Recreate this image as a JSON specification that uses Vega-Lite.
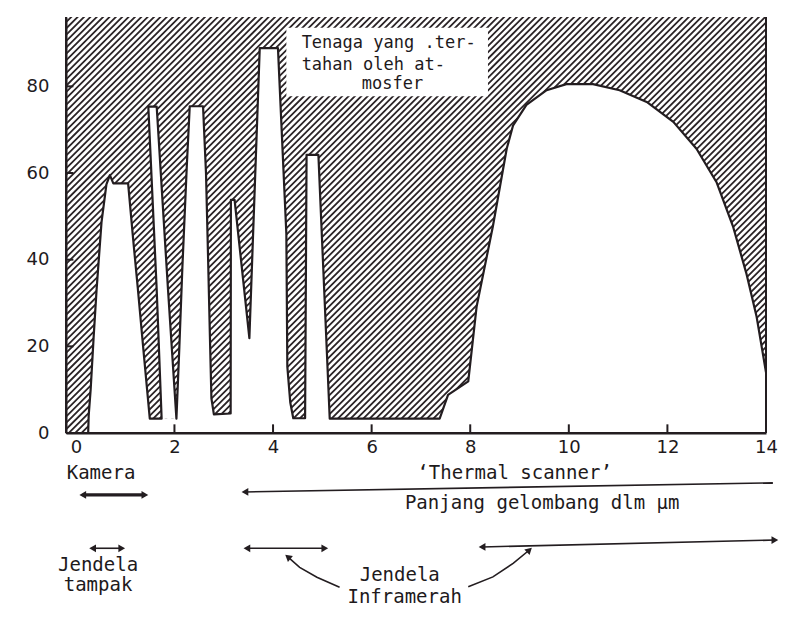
{
  "$schema": "https://vega.github.io/schema/vega-lite/v6.json",
  "width": 700,
  "height": 416,
  "autosize": {"type": "none"},
  "padding": {"left": 66, "top": 17, "right": 25, "bottom": 189},
  "background": "#ffffff",
  "config": {
    "view": {"stroke": null},
    "axis": {
      "labelFont": "DejaVu Sans", "labelFontSize": 18, "labelColor": "#1e1a1c",
      "domainColor": "#1e1a1c", "domainWidth": 2, "ticks": false,
      "grid": false, "zindex": 1, "labelOverlap": false
    },
    "axisX": {"tickCount": 7, "labelPadding": 5, "labelFlush": false},
    "axisY": {"tickCount": 5, "labelPadding": 17}
  },
  "datasets": {
    "curve": [
      {"i": 1, "part": "A", "x": 0.25, "y": 0},
      {"i": 2, "part": "A", "x": 0.26, "y": 4},
      {"i": 3, "part": "A", "x": 0.30, "y": 10},
      {"i": 4, "part": "A", "x": 0.36, "y": 22},
      {"i": 5, "part": "A", "x": 0.42, "y": 33},
      {"i": 6, "part": "A", "x": 0.52, "y": 48.6},
      {"i": 7, "part": "A", "x": 0.62, "y": 57.4},
      {"i": 8, "part": "A", "x": 0.69, "y": 59.5},
      {"i": 9, "part": "A", "x": 0.76, "y": 57.6},
      {"i": 10, "part": "A", "x": 1.06, "y": 57.6},
      {"i": 11, "part": "A", "x": 1.16, "y": 45},
      {"i": 12, "part": "A", "x": 1.26, "y": 33},
      {"i": 13, "part": "A", "x": 1.38, "y": 18},
      {"i": 14, "part": "A", "x": 1.50, "y": 3.3},
      {"i": 15, "part": "A", "x": 1.74, "y": 3.3},
      {"i": 16, "part": "S", "x": 1.64, "y": 33},
      {"i": 17, "part": "S", "x": 1.47, "y": 75.3},
      {"i": 18, "part": "S", "x": 1.64, "y": 75.3},
      {"i": 19, "part": "S", "x": 1.87, "y": 33},
      {"i": 20, "part": "B", "x": 2.04, "y": 3.3},
      {"i": 21, "part": "B", "x": 2.10, "y": 20},
      {"i": 22, "part": "B", "x": 2.16, "y": 38},
      {"i": 23, "part": "B", "x": 2.25, "y": 61.5},
      {"i": 24, "part": "B", "x": 2.31, "y": 75.4},
      {"i": 25, "part": "B", "x": 2.58, "y": 75.4},
      {"i": 26, "part": "B", "x": 2.64, "y": 60},
      {"i": 27, "part": "B", "x": 2.68, "y": 41.5},
      {"i": 28, "part": "B", "x": 2.72, "y": 22},
      {"i": 29, "part": "B", "x": 2.75, "y": 8},
      {"i": 30, "part": "B", "x": 2.80, "y": 4.3},
      {"i": 31, "part": "B", "x": 3.14, "y": 4.5},
      {"i": 32, "part": "B", "x": 3.145, "y": 53.8},
      {"i": 33, "part": "B", "x": 3.22, "y": 53.8},
      {"i": 34, "part": "B", "x": 3.52, "y": 21.9},
      {"i": 35, "part": "B", "x": 3.73, "y": 88.8},
      {"i": 36, "part": "B", "x": 4.10, "y": 88.8},
      {"i": 37, "part": "B", "x": 4.27, "y": 46},
      {"i": 38, "part": "B", "x": 4.29, "y": 15.3},
      {"i": 39, "part": "B", "x": 4.35, "y": 7},
      {"i": 40, "part": "B", "x": 4.41, "y": 3.4},
      {"i": 41, "part": "B", "x": 4.65, "y": 3.4},
      {"i": 42, "part": "B", "x": 4.68, "y": 64.2},
      {"i": 43, "part": "B", "x": 4.92, "y": 64.2},
      {"i": 44, "part": "B", "x": 5.15, "y": 3.3},
      {"i": 45, "part": "B", "x": 7.38, "y": 3.3},
      {"i": 46, "part": "B", "x": 7.55, "y": 8.8},
      {"i": 47, "part": "B", "x": 7.96, "y": 11.9},
      {"i": 48, "part": "B", "x": 8.13, "y": 29.2},
      {"i": 49, "part": "B", "x": 8.46, "y": 47.7},
      {"i": 50, "part": "B", "x": 8.74, "y": 65.6},
      {"i": 51, "part": "B", "x": 8.87, "y": 71},
      {"i": 52, "part": "B", "x": 9.14, "y": 75.7},
      {"i": 53, "part": "B", "x": 9.55, "y": 79.1},
      {"i": 54, "part": "B", "x": 9.95, "y": 80.5},
      {"i": 55, "part": "B", "x": 10.49, "y": 80.5},
      {"i": 56, "part": "B", "x": 11.03, "y": 79.1},
      {"i": 57, "part": "B", "x": 11.58, "y": 76.4},
      {"i": 58, "part": "B", "x": 12.12, "y": 71.8},
      {"i": 59, "part": "B", "x": 12.59, "y": 65.6},
      {"i": 60, "part": "B", "x": 13.0, "y": 57.8},
      {"i": 61, "part": "B", "x": 13.33, "y": 47.7},
      {"i": 62, "part": "B", "x": 13.6, "y": 36.9},
      {"i": 63, "part": "B", "x": 13.81, "y": 26.8},
      {"i": 64, "part": "B", "x": 14.0, "y": 14}
    ],
    "spike": [
      {"y": 3.3, "xl": 1.74, "xr": 2.04},
      {"y": 33, "xl": 1.64, "xr": 1.87},
      {"y": 75.3, "xl": 1.47, "xr": 1.64}
    ],
    "boxText": [
      {"t": "Tenaga yang .ter-", "x": 4.58, "y": 90},
      {"t": "tahan oleh at-", "x": 4.58, "y": 85},
      {"t": "mosfer", "x": 5.80, "y": 80.6}
    ],
    "xticks": [{"v": 2}, {"v": 4}, {"v": 6}, {"v": 8}, {"v": 10}, {"v": 12}],
    "yticks": [{"v": 20}, {"v": 40}, {"v": 60}, {"v": 80}],
    "arrows": [
      {"a": "kamera", "i": 1, "x": 0.14, "y": -14.3},
      {"a": "kamera", "i": 2, "x": 1.40, "y": -14.3},
      {"a": "thermal", "i": 1, "x": 3.43, "y": -13.6},
      {"a": "thermal", "i": 2, "x": 14.14, "y": -11.5},
      {"a": "tampak", "i": 1, "x": 0.34, "y": -26.6},
      {"a": "tampak", "i": 2, "x": 0.93, "y": -26.6},
      {"a": "ir1", "i": 1, "x": 3.47, "y": -26.6},
      {"a": "ir1", "i": 2, "x": 5.05, "y": -26.6},
      {"a": "ir2", "i": 1, "x": 8.24, "y": -26.3},
      {"a": "ir2", "i": 2, "x": 14.18, "y": -24.7},
      {"a": "c1", "i": 1, "x": 5.35, "y": -35.6},
      {"a": "c1", "i": 2, "x": 4.89, "y": -33.3},
      {"a": "c1", "i": 3, "x": 4.54, "y": -31.0},
      {"a": "c1", "i": 4, "x": 4.30, "y": -28.6},
      {"a": "c2", "i": 1, "x": 7.96, "y": -35.5},
      {"a": "c2", "i": 2, "x": 8.46, "y": -33.2},
      {"a": "c2", "i": 3, "x": 8.87, "y": -30.1},
      {"a": "c2", "i": 4, "x": 9.2, "y": -27.0}
    ],
    "heads": [
      {"a": "kamera", "end": "L", "x": 0.14, "y": -14.3},
      {"a": "kamera", "end": "R", "x": 1.40, "y": -14.3},
      {"a": "thermal", "end": "L", "x": 3.43, "y": -13.6},
      {"a": "tampak", "end": "L", "x": 0.34, "y": -26.6},
      {"a": "tampak", "end": "R", "x": 0.93, "y": -26.6},
      {"a": "ir1", "end": "L", "x": 3.47, "y": -26.6},
      {"a": "ir1", "end": "R", "x": 5.05, "y": -26.6},
      {"a": "ir2", "end": "L", "x": 8.24, "y": -26.3},
      {"a": "ir2", "end": "R", "x": 14.18, "y": -24.7},
      {"a": "c1", "end": "C", "x": 4.30, "y": -28.6},
      {"a": "c2", "end": "C", "x": 9.2, "y": -27.0}
    ],
    "notes": [
      {"t": "Kamera", "x": 0.51, "y": -9.2},
      {"t": "‘Thermal scanner’", "x": 8.9, "y": -9.2},
      {"t": "Panjang gelombang dlm µm", "x": 9.46, "y": -16.2},
      {"t": "Jendela", "x": 0.45, "y": -30.5},
      {"t": "tampak", "x": 0.45, "y": -35.1},
      {"t": "Jendela", "x": 6.57, "y": -32.8},
      {"t": "Inframerah", "x": 6.67, "y": -37.9}
    ]
  },
  "layer": [
    {
      "data": {"values": [{}]},
      "mark": {"type": "rule", "clip": true, "strokeWidth": 1200, "strokeDash": [1.8, 2.7], "color": "#2b2427", "opacity": 1},
      "encoding": {
        "x": {"datum": -1.62, "type": "quantitative", "title": null, "scale": {"domain": [-0.2, 14], "nice": false, "zero": false}},
        "y": {"datum": 145, "type": "quantitative", "title": null, "scale": {"domain": [0, 96], "nice": false, "zero": false}},
        "x2": {"datum": 15.42},
        "y2": {"datum": -49}
      }
    },
    {
      "data": {"values": [{}]},
      "mark": {"type": "rect", "color": "#ffffff", "opacity": 1},
      "encoding": {
        "x": {"datum": 0.25, "type": "quantitative", "title": null, "scale": {"domain": [-0.2, 14], "nice": false, "zero": false}},
        "x2": {"datum": 14},
        "y": {"datum": 0, "type": "quantitative", "title": null, "scale": {"domain": [0, 96], "nice": false, "zero": false}},
        "y2": {"datum": 3.3}
      }
    },
    {
      "data": {"name": "curve"},
      "transform": [{"filter": "datum.part != 'S'"}],
      "mark": {"type": "area", "color": "#ffffff", "orient": "vertical", "opacity": 1},
      "encoding": {
        "x": {"field": "x", "type": "quantitative", "title": null, "scale": {"domain": [-0.2, 14], "nice": false, "zero": false}},
        "y": {"field": "y", "type": "quantitative", "title": null, "scale": {"domain": [0, 96], "nice": false, "zero": false}},
        "y2": {"datum": 0},
        "detail": {"field": "part"}
      }
    },
    {
      "data": {"name": "spike"},
      "mark": {"type": "area", "color": "#ffffff", "orient": "horizontal", "opacity": 1},
      "encoding": {
        "y": {"field": "y", "type": "quantitative", "title": null, "scale": {"domain": [0, 96], "nice": false, "zero": false}},
        "x": {"field": "xl", "type": "quantitative", "title": null, "scale": {"domain": [-0.2, 14], "nice": false, "zero": false}},
        "x2": {"field": "xr"}
      }
    },
    {
      "data": {"values": [{}]},
      "mark": {"type": "rect", "color": "#ffffff", "opacity": 1},
      "encoding": {
        "x": {"datum": 4.27, "type": "quantitative", "title": null, "scale": {"domain": [-0.2, 14], "nice": false, "zero": false}},
        "x2": {"datum": 8.36},
        "y": {"datum": 77.7, "type": "quantitative", "title": null, "scale": {"domain": [0, 96], "nice": false, "zero": false}},
        "y2": {"datum": 93.5}
      }
    },
    {
      "data": {"name": "curve"},
      "mark": {"type": "line", "color": "#231d20", "strokeWidth": 2.2, "strokeJoin": "round"},
      "encoding": {
        "x": {"field": "x", "type": "quantitative", "title": null, "scale": {"domain": [-0.2, 14], "nice": false, "zero": false}},
        "y": {"field": "y", "type": "quantitative", "title": null, "scale": {"domain": [0, 96], "nice": false, "zero": false}},
        "order": {"field": "i"}
      }
    },
    {
      "data": {"values": [{}]},
      "mark": {"type": "rule", "color": "#231d20", "strokeWidth": 2},
      "encoding": {
        "x": {"datum": 14, "type": "quantitative", "title": null, "scale": {"domain": [-0.2, 14], "nice": false, "zero": false}},
        "y": {"datum": 0, "type": "quantitative", "title": null, "scale": {"domain": [0, 96], "nice": false, "zero": false}},
        "y2": {"datum": 96}
      }
    },
    {
      "data": {"values": [{}]},
      "mark": {"type": "rule", "color": "#231d20", "strokeWidth": 2},
      "encoding": {
        "x": {"datum": -0.2, "type": "quantitative", "title": null, "scale": {"domain": [-0.2, 14], "nice": false, "zero": false}},
        "y": {"datum": 0, "type": "quantitative", "title": null, "scale": {"domain": [0, 96], "nice": false, "zero": false}},
        "y2": {"datum": 96}
      }
    },
    {
      "data": {"values": [{}]},
      "mark": {"type": "rule", "color": "#231d20", "strokeWidth": 2},
      "encoding": {
        "x": {"datum": -0.2, "type": "quantitative", "title": null, "scale": {"domain": [-0.2, 14], "nice": false, "zero": false}},
        "x2": {"datum": 14},
        "y": {"datum": 0, "type": "quantitative", "title": null, "scale": {"domain": [0, 96], "nice": false, "zero": false}}
      }
    },
    {
      "data": {"name": "xticks"},
      "mark": {"type": "rule", "color": "#231d20", "strokeWidth": 2},
      "encoding": {
        "x": {"field": "v", "type": "quantitative", "title": null, "scale": {"domain": [-0.2, 14], "nice": false, "zero": false}},
        "y": {"datum": 0, "type": "quantitative", "title": null, "scale": {"domain": [0, 96], "nice": false, "zero": false}},
        "y2": {"datum": 2}
      }
    },
    {
      "data": {"name": "yticks"},
      "mark": {"type": "rule", "color": "#231d20", "strokeWidth": 2},
      "encoding": {
        "y": {"field": "v", "type": "quantitative", "title": null, "scale": {"domain": [0, 96], "nice": false, "zero": false}},
        "x": {"datum": -0.2, "type": "quantitative", "title": null, "scale": {"domain": [-0.2, 14], "nice": false, "zero": false}},
        "x2": {"datum": -0.05}
      }
    },
    {
      "data": {"name": "boxText"},
      "mark": {"type": "text", "align": "left", "baseline": "middle", "font": "DejaVu Sans Mono", "fontSize": 17, "color": "#1e1a1c"},
      "encoding": {
        "x": {"field": "x", "type": "quantitative", "title": null, "scale": {"domain": [-0.2, 14], "nice": false, "zero": false}},
        "y": {"field": "y", "type": "quantitative", "title": null, "scale": {"domain": [0, 96], "nice": false, "zero": false}},
        "text": {"field": "t"}
      }
    },
    {
      "data": {"name": "arrows"},
      "transform": [{"filter": "datum.a != 'kamera'"}],
      "mark": {"type": "line", "color": "#231d20", "strokeWidth": 1.6},
      "encoding": {
        "x": {"field": "x", "type": "quantitative", "title": null, "scale": {"domain": [-0.2, 14], "nice": false, "zero": false}},
        "y": {"field": "y", "type": "quantitative", "title": null, "scale": {"domain": [0, 96], "nice": false, "zero": false}},
        "detail": {"field": "a"},
        "order": {"field": "i"}
      }
    },
    {
      "data": {"name": "arrows"},
      "transform": [{"filter": "datum.a == 'kamera'"}],
      "mark": {"type": "line", "color": "#231d20", "strokeWidth": 3.2},
      "encoding": {
        "x": {"field": "x", "type": "quantitative", "title": null, "scale": {"domain": [-0.2, 14], "nice": false, "zero": false}},
        "y": {"field": "y", "type": "quantitative", "title": null, "scale": {"domain": [0, 96], "nice": false, "zero": false}},
        "order": {"field": "i"}
      }
    },
    {
      "data": {"name": "heads"},
      "transform": [{"filter": "datum.end == 'L'"}],
      "mark": {"type": "point", "shape": "triangle-left", "filled": true, "size": 60, "color": "#231d20", "opacity": 1},
      "encoding": {
        "x": {"field": "x", "type": "quantitative", "title": null, "scale": {"domain": [-0.2, 14], "nice": false, "zero": false}},
        "y": {"field": "y", "type": "quantitative", "title": null, "scale": {"domain": [0, 96], "nice": false, "zero": false}}
      }
    },
    {
      "data": {"name": "heads"},
      "transform": [{"filter": "datum.end == 'R'"}],
      "mark": {"type": "point", "shape": "triangle-right", "filled": true, "size": 60, "color": "#231d20", "opacity": 1},
      "encoding": {
        "x": {"field": "x", "type": "quantitative", "title": null, "scale": {"domain": [-0.2, 14], "nice": false, "zero": false}},
        "y": {"field": "y", "type": "quantitative", "title": null, "scale": {"domain": [0, 96], "nice": false, "zero": false}}
      }
    },
    {
      "data": {"name": "heads"},
      "transform": [{"filter": "datum.a == 'c1'"}],
      "mark": {"type": "point", "shape": "triangle-up", "angle": 310, "filled": true, "size": 60, "color": "#231d20", "opacity": 1},
      "encoding": {
        "x": {"field": "x", "type": "quantitative", "title": null, "scale": {"domain": [-0.2, 14], "nice": false, "zero": false}},
        "y": {"field": "y", "type": "quantitative", "title": null, "scale": {"domain": [0, 96], "nice": false, "zero": false}}
      }
    },
    {
      "data": {"name": "heads"},
      "transform": [{"filter": "datum.a == 'c2'"}],
      "mark": {"type": "point", "shape": "triangle-up", "angle": 47, "filled": true, "size": 60, "color": "#231d20", "opacity": 1},
      "encoding": {
        "x": {"field": "x", "type": "quantitative", "title": null, "scale": {"domain": [-0.2, 14], "nice": false, "zero": false}},
        "y": {"field": "y", "type": "quantitative", "title": null, "scale": {"domain": [0, 96], "nice": false, "zero": false}}
      }
    },
    {
      "data": {"name": "notes"},
      "mark": {"type": "text", "align": "center", "baseline": "middle", "font": "DejaVu Sans Mono", "fontSize": 19, "color": "#1e1a1c"},
      "encoding": {
        "x": {"field": "x", "type": "quantitative", "title": null, "scale": {"domain": [-0.2, 14], "nice": false, "zero": false}},
        "y": {"field": "y", "type": "quantitative", "title": null, "scale": {"domain": [0, 96], "nice": false, "zero": false}},
        "text": {"field": "t"}
      }
    }
  ]
}
